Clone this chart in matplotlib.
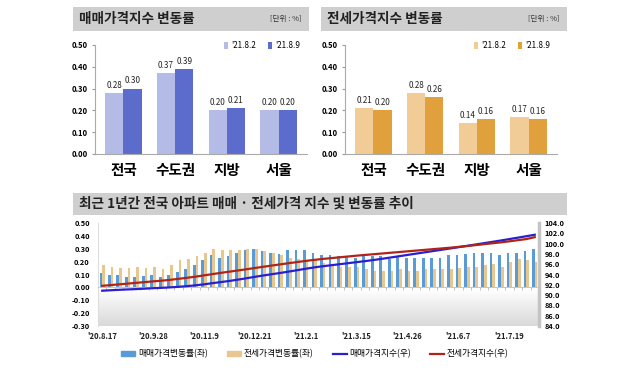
import numpy as np
import matplotlib
matplotlib.use('Agg')
import matplotlib.pyplot as plt
from matplotlib.patches import Rectangle, Patch
from matplotlib.lines import Line2D

plt.rcParams['font.family'] = ['Noto Sans CJK KR', 'DejaVu Sans']

# DATA
regions = ['전국', '수도권', '지방', '서울']
weeks = ["'21.8.2", "'21.8.9"]
sale_prev = [0.28, 0.37, 0.20, 0.20]
sale_curr = [0.30, 0.39, 0.21, 0.20]
jeonse_prev = [0.21, 0.28, 0.14, 0.17]
jeonse_curr = [0.20, 0.26, 0.16, 0.16]

tick_labels = ["'20.8.17", "'20.9.28", "'20.11.9", "'20.12.21", "'21.2.1",
               "'21.3.15", "'21.4.26", "'21.6.7", "'21.7.19"]
sale_rate = [0.11, 0.10, 0.10, 0.08, 0.08, 0.09, 0.10, 0.08, 0.10, 0.12,
             0.14, 0.17, 0.21, 0.25, 0.23, 0.24, 0.27, 0.29, 0.30, 0.28,
             0.27, 0.26, 0.29, 0.29, 0.29, 0.27, 0.25, 0.25, 0.24, 0.24,
             0.23, 0.24, 0.24, 0.24, 0.22, 0.24, 0.23, 0.23, 0.23, 0.23,
             0.23, 0.25, 0.25, 0.26, 0.27, 0.27, 0.27, 0.25, 0.27, 0.27,
             0.28, 0.30]
jeonse_rate = [0.17, 0.16, 0.15, 0.15, 0.16, 0.15, 0.16, 0.14, 0.17, 0.21,
               0.22, 0.24, 0.27, 0.30, 0.29, 0.29, 0.29, 0.30, 0.30, 0.28,
               0.27, 0.25, 0.23, 0.22, 0.21, 0.21, 0.19, 0.18, 0.16, 0.16,
               0.16, 0.14, 0.13, 0.13, 0.13, 0.14, 0.13, 0.13, 0.14, 0.14,
               0.14, 0.14, 0.15, 0.16, 0.16, 0.17, 0.18, 0.16, 0.20, 0.22,
               0.21, 0.20]
sale_index = [90.85, 90.94, 91.03, 91.10, 91.17, 91.25, 91.34, 91.41, 91.50, 91.61,
              91.74, 91.90, 92.09, 92.32, 92.53, 92.75, 93.00, 93.27, 93.55, 93.81,
              94.06, 94.30, 94.57, 94.84, 95.12, 95.38, 95.60, 95.80, 96.00, 96.20,
              96.40, 96.60, 96.82, 97.05, 97.30, 97.55, 97.80, 98.05, 98.30, 98.55,
              98.80, 99.05, 99.30, 99.56, 99.82, 100.08, 100.34, 100.60, 100.88, 101.15,
              101.43, 101.72]
jeonse_index = [91.80, 91.95, 92.09, 92.23, 92.38, 92.52, 92.67, 92.80, 92.96, 93.16,
                93.36, 93.58, 93.83, 94.08, 94.32, 94.55, 94.78, 95.02, 95.26, 95.50,
                95.74, 95.97, 96.20, 96.42, 96.64, 96.84, 97.02, 97.18, 97.34, 97.50,
                97.66, 97.80, 97.94, 98.08, 98.22, 98.36, 98.50, 98.64, 98.78, 98.92,
                99.06, 99.20, 99.36, 99.52, 99.70, 99.88, 100.06, 100.24, 100.44, 100.66,
                100.88, 101.25]

fig = plt.figure(figsize=(6.39, 3.82), dpi=100)
W, H = 639, 382

def fx(px):
    return px / W

def fy(py):
    return 1 - py / H

# HEADERS
def header(x0, x1, y0, y1, title, unit=None):
    fig.patches.append(Rectangle((fx(x0), fy(y1)), fx(x1 - x0), (y1 - y0) / H,
                                 transform=fig.transFigure, facecolor='#cfcfcf',
                                 edgecolor='none', zorder=0))
    fig.text(fx(x0 + 6), fy((y0 + y1) / 2), title, fontsize=9.8, fontweight='bold',
             va='center', ha='left', color='#222222')
    if unit:
        fig.text(fx(x1 - 8), fy((y0 + y1) / 2), unit, fontsize=5.5, va='center',
                 ha='right', color='#333333')

header(73, 309, 7, 31, '매매가격지수 변동률', '[단위 : %]')
header(321, 567, 7, 31, '전세가격지수 변동률', '[단위 : %]')
header(73, 567, 193, 215, '최근 1년간 전국 아파트 매매 · 전세가격 지수 및 변동률 추이')

# TOP BAR CHARTS
def top_chart(left_px, prev, curr, c_prev, c_curr):
    ax = fig.add_axes([fx(left_px), fy(154), fx(212), (154 - 45) / H])
    x = np.arange(len(regions))
    w = 0.35
    b1 = ax.bar(x - w / 2, prev, w, color=c_prev, label=weeks[0])
    b2 = ax.bar(x + w / 2, curr, w, color=c_curr, label=weeks[1])
    for bars, vals in ((b1, prev), (b2, curr)):
        for b, v in zip(bars, vals):
            ax.text(b.get_x() + b.get_width() / 2, v + 0.015, f'{v:.2f}',
                    ha='center', va='bottom', fontsize=5.8, color='#222222')
    ax.set_ylim(0, 0.5)
    ax.set_xlim(-0.55, 3.55)
    ax.set_yticks(np.arange(0, 0.51, 0.1))
    ax.set_yticklabels([f'{v:.2f}' for v in np.arange(0, 0.51, 0.1)],
                       fontsize=5.5, fontweight='bold')
    ax.set_xticks(x)
    ax.set_xticklabels(regions, fontsize=10.5, fontweight='bold')
    ax.tick_params(axis='x', length=0, pad=6)
    ax.tick_params(axis='y', length=2, pad=3, color='#999999')
    for s in ('top', 'right'):
        ax.spines[s].set_visible(False)
    for s in ('left', 'bottom'):
        ax.spines[s].set_color('#aaaaaa')
        ax.spines[s].set_linewidth(0.8)
    ax.legend(loc='upper right', ncol=2, frameon=False, fontsize=5.8,
              handlelength=0.6, handleheight=0.8, handletextpad=0.3,
              columnspacing=1.5, bbox_to_anchor=(1.0, 1.1))
    return ax

top_chart(95, sale_prev, sale_curr, '#b3bbe6', '#5c6ccc')
top_chart(345, jeonse_prev, jeonse_curr, '#f2cc96', '#e0a03c')

# BOTTOM COMBO CHART
ax = fig.add_axes([fx(98), fy(326), fx(441), (326 - 223) / H])
n = len(sale_rate)
x = np.arange(n)

# background gradient: white on top, grey toward the bottom
f = np.linspace(0, 1, 200)[:, None]
g = np.where(f < 0.36, 1 - 0.15 * (1 - f / 0.36), 1.0)
img = np.dstack([g, g, g])
ax.imshow(img, extent=(-0.5, n - 0.5, -0.3, 0.5), origin='lower', aspect='auto', zorder=0)

w = 0.32
ax.bar(x - w / 2, sale_rate, w, color='#5b9bd5', zorder=2)
ax.bar(x + w / 2, jeonse_rate, w, color='#e8c690', zorder=2)
ax.set_xlim(-0.5, n - 0.5)
ax.set_ylim(-0.3, 0.5)
ax.set_yticks(np.arange(-0.3, 0.51, 0.1))
ax.set_yticklabels([f'{v:.2f}' for v in np.arange(-0.3, 0.51, 0.1)],
                   fontsize=5.3, fontweight='bold')
ax.tick_params(axis='y', length=0, pad=6)
ax.spines['bottom'].set_position(('data', 0))
ax.spines['bottom'].set_color('#bbbbbb')
ax.spines['bottom'].set_linewidth(0.6)
ax.set_xticks(np.arange(-0.5, n, 1))
ax.set_xticklabels([])
ax.tick_params(axis='x', length=2, color='#aaaaaa', width=0.5)
ax.spines['top'].set_visible(False)
ax.spines['right'].set_visible(False)
ax.spines['left'].set_color('#dddddd')
for i, lab in enumerate(tick_labels):
    ax.text(i * 6, -0.06, lab, transform=ax.get_xaxis_transform(), ha='center',
            va='top', fontsize=5.5, fontweight='bold', color='#222222')

ax2 = ax.twinx()
ax2.plot(x, sale_index, color='#2a1fd0', lw=1.6, zorder=3)
ax2.plot(x, jeonse_index, color='#b02418', lw=1.6, zorder=3)
ax2.set_ylim(84, 104)
ax2.set_yticks(np.arange(84, 104.1, 2))
ax2.set_yticklabels([f'{v:.1f}' for v in np.arange(84, 104.1, 2)],
                    fontsize=5.3, fontweight='bold')
ax2.tick_params(axis='y', length=0, pad=4)
ax2.spines['right'].set_color('#c4c4c4')
ax2.spines['right'].set_linewidth(2.5)
for s in ('top', 'left', 'bottom'):
    ax2.spines[s].set_visible(False)

handles = [Patch(color='#5b9bd5'), Patch(color='#e8c690'),
           Line2D([0], [0], color='#2a1fd0', lw=1.6),
           Line2D([0], [0], color='#b02418', lw=1.6)]
labels = ['매매가격변동률(좌)', '전세가격변동률(좌)', '매매가격지수(우)', '전세가격지수(우)']
fig.legend(handles, labels, loc='center', bbox_to_anchor=(fx(315), fy(354)), ncol=4,
           frameon=False, fontsize=6.3, handlelength=1.6, handleheight=0.6,
           handletextpad=0.3, columnspacing=2.2)

fig.savefig('out.png', dpi=100)
